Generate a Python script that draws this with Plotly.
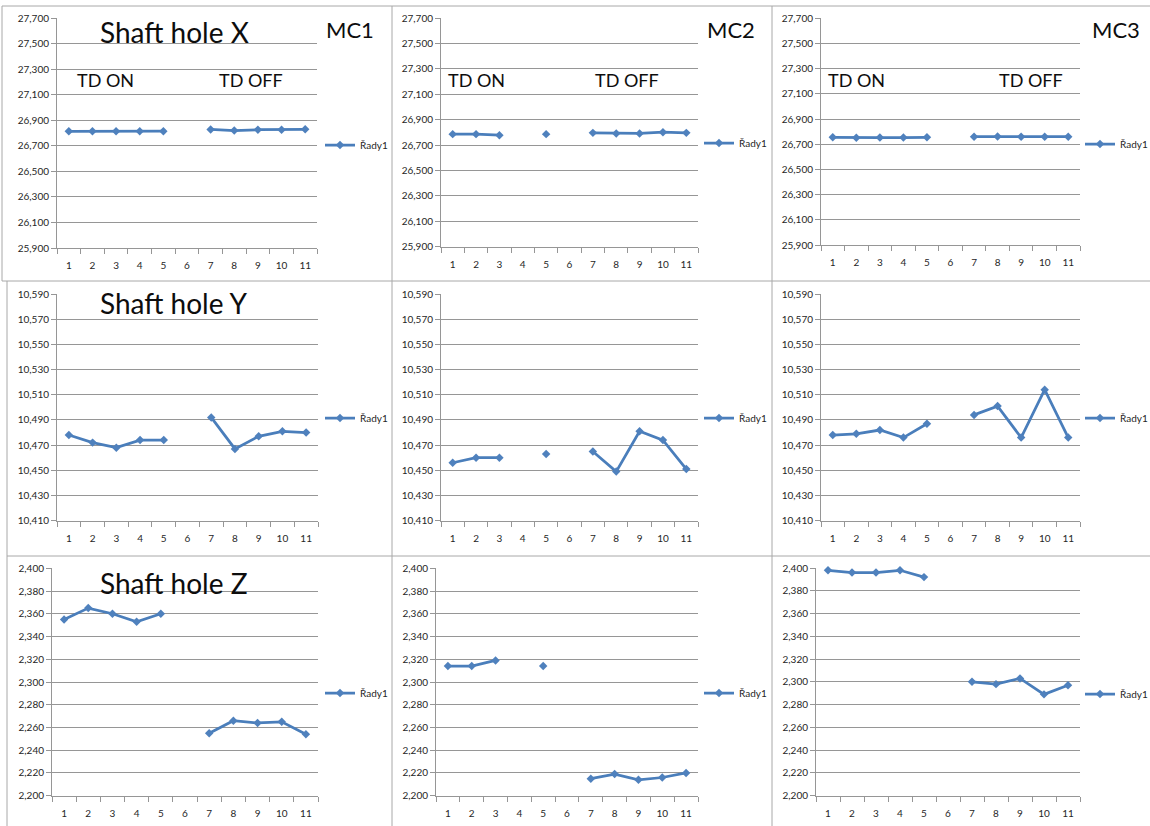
import plotly.graph_objects as go

# Figure size in pixels
W, H = 1150, 826

# ---- data -------------------------------------------------------------
categories = list(range(1, 12))
tick_labels = [str(c) for c in categories]

# Shaft hole X, machines MC1..MC3 (position 6 not measured)
mc1_x = [26.813, 26.814, 26.813, 26.813, 26.814, None, 26.828, 26.819, 26.826, 26.825, 26.829]
mc2_x = [26.786, 26.786, 26.778, None, 26.786, None, 26.796, 26.791, 26.791, 26.801, 26.796]
mc3_x = [26.755, 26.752, 26.753, 26.753, 26.755, None, 26.760, 26.761, 26.760, 26.760, 26.760]

# Shaft hole Y
mc1_y = [10.478, 10.472, 10.468, 10.474, 10.474, None, 10.492, 10.467, 10.477, 10.481, 10.480]
mc2_y = [10.456, 10.460, 10.460, None, 10.463, None, 10.465, 10.449, 10.481, 10.474, 10.451]
mc3_y = [10.478, 10.479, 10.482, 10.476, 10.487, None, 10.494, 10.501, 10.476, 10.514, 10.476]

# Shaft hole Z
mc1_z = [2.355, 2.365, 2.360, 2.353, 2.360, None, 2.255, 2.266, 2.264, 2.265, 2.254]
mc2_z = [2.314, 2.314, 2.319, None, 2.314, None, 2.215, 2.219, 2.214, 2.216, 2.220]
mc3_z = [2.398, 2.396, 2.396, 2.398, 2.392, None, 2.300, 2.298, 2.303, 2.289, 2.297]

row_titles = ["Shaft hole X", "Shaft hole Y", "Shaft hole Z"]
machine_names = ["MC1", "MC2", "MC3"]
series_name = "Řady1"

# y-axis scale per row: (min, max, step)
row_scales = [(25.9, 27.7, 0.2), (10.41, 10.59, 0.02), (2.2, 2.4, 0.02)]

grid = [
    [mc1_x, mc2_x, mc3_x],
    [mc1_y, mc2_y, mc3_y],
    [mc1_z, mc2_z, mc3_z],
]

# ---- layout geometry (pixels) -----------------------------------------
# plot rectangles: left, right, top, bottom
plot_rects = [
    [(57, 317, 18, 248), (441, 698, 18, 246.7), (821, 1080, 18.3, 245)],
    [(57, 318, 294, 520.7), (441, 698, 294, 520.7), (821, 1080, 294, 520.7)],
    [(52, 318, 568.3, 795.7), (436, 698, 568.3, 795.7), (816, 1080, 568, 795.7)],
]
legend_pos = [
    [(320, 145), (699, 143), (1080, 144)],
    [(320, 418), (699, 418), (1080, 418)],
    [(320, 693), (699, 693), (1080, 694)],
]

LINE_BLUE = "#4a7ebb"
MARK_BLUE = "#4f81bd"
GRID = "#969696"
FRAME = "#a8a8a8"
TEXT = "#262626"
FONT = "Lato"


def fx(px):
    return px / W


def fy(py):
    return 1 - py / H


fig = go.Figure()
layout = dict(
    width=W,
    height=H,
    margin=dict(l=0, r=0, t=0, b=0, pad=0, autoexpand=False),
    paper_bgcolor="white",
    plot_bgcolor="white",
    separators=",.",
    showlegend=True,
    font=dict(family=FONT, color=TEXT),
)

boundaries = [c - 0.5 for c in categories] + [categories[-1] + 0.5]

for r in range(3):
    lo, hi, step = row_scales[r]
    for c in range(3):
        n = r * 3 + c + 1
        sfx = "" if n == 1 else str(n)
        left, right, top, bottom = plot_rects[r][c]

        fig.add_trace(
            go.Scatter(
                x=categories,
                y=grid[r][c],
                mode="lines+markers",
                name=series_name,
                connectgaps=False,
                cliponaxis=False,
                line=dict(color=LINE_BLUE, width=2.75),
                marker=dict(symbol="diamond", size=6.5, color=MARK_BLUE,
                            line=dict(width=0)),
                xaxis="x" + sfx,
                yaxis="y" + sfx,
                legend="legend" + sfx,
                hoverinfo="x+y",
            )
        )

        layout["xaxis" + sfx] = dict(
            domain=[fx(left), fx(right)],
            anchor="y" + sfx,
            range=[0.5, 11.5],
            tickmode="array",
            tickvals=categories,
            ticktext=tick_labels,
            ticks="outside",
            ticklen=5,
            tickcolor="rgba(0,0,0,0)",
            ticklabelstandoff=3,
            showgrid=False,
            zeroline=False,
            showline=True,
            linecolor=GRID,
            linewidth=1,
            automargin=False,
            tickfont=dict(family=FONT, size=10, color=TEXT),
            minor=dict(
                tickmode="array",
                tickvals=boundaries,
                ticks="outside",
                ticklen=5,
                tickcolor=GRID,
                showgrid=False,
            ),
            fixedrange=True,
        )
        layout["yaxis" + sfx] = dict(
            domain=[fy(bottom), fy(top)],
            anchor="x" + sfx,
            range=[lo, hi],
            tick0=lo,
            dtick=step,
            tickformat=".3f",
            ticks="outside",
            ticklen=5,
            tickcolor=GRID,
            showgrid=True,
            gridcolor=GRID,
            gridwidth=1,
            zeroline=False,
            showline=True,
            linecolor=GRID,
            linewidth=1,
            automargin=False,
            tickfont=dict(family=FONT, size=10, color=TEXT),
            fixedrange=True,
        )

        lx, ly = legend_pos[r][c]
        layout["legend" + sfx] = dict(
            x=fx(lx),
            y=fy(ly),
            xanchor="left",
            yanchor="middle",
            bgcolor="rgba(0,0,0,0)",
            borderwidth=0,
            itemwidth=30,
            font=dict(family=FONT, size=10, color=TEXT),
        )

# ---- annotations: row titles, machine labels, TD state labels ----------
annotations = []


def label(text, px, py, size):
    return dict(text=text, x=fx(px), y=fy(py), xref="paper", yref="paper",
                xanchor="center", yanchor="middle", showarrow=False,
                font=dict(family=FONT, size=size, color="#0d0d0d"))


title_y = [32, 303, 583]
for r, t in enumerate(row_titles):
    annotations.append(label(t, 174, title_y[r], 28))
mc_x = [350, 731, 1116]
for c, m in enumerate(machine_names):
    annotations.append(label(m, mc_x[c], 29, 22))
td_on_x = [105, 476, 856]
td_off_x = [251, 627, 1031]
for c in range(3):
    annotations.append(label("TD ON", td_on_x[c], 80, 18))
    annotations.append(label("TD OFF", td_off_x[c], 80, 18))
layout["annotations"] = annotations

# ---- chart frames -----------------------------------------------------
frame_lines = [
    # horizontal borders
    (2, 6, W, 6), (2, 281, W, 281), (7, 556, W, 556),
    # vertical borders
    (2, 6, 2, 281), (7, 281, 7, H),
    (392, 6, 392, H), (772, 6, 772, H),
]
layout["shapes"] = [
    dict(type="line", xref="paper", yref="paper",
         x0=fx(a), y0=fy(b), x1=fx(c2), y1=fy(d),
         line=dict(color=FRAME, width=1))
    for a, b, c2, d in frame_lines
]

fig.update_layout(**layout)
fig.write_html("out.html")
